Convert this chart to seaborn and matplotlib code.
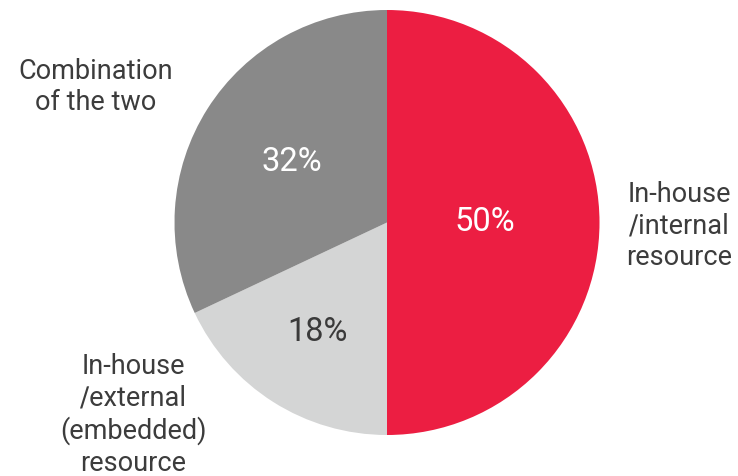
import numpy as np
import matplotlib
matplotlib.use("Agg")
import matplotlib.pyplot as plt
import seaborn as sns

# Source of resource for the function
categories = ["In-house\n∕internal\nresource",
              "In-house\n∕external\n(embedded)\nresource",
              "Combination\nof the two"]
shares = [50, 18, 32]
pct_labels = ["50%", "18%", "32%"]
colors = ["#EC1E42", "#D4D5D5", "#898989"]
pct_colors = ["#FFFFFF", "#3A3A3A", "#FFFFFF"]

sns.set_theme(style="white")
plt.rcParams["font.family"] = ["Roboto", "DejaVu Sans"]

W, H = 738, 476
fig = plt.figure(figsize=(W / 100, H / 100), dpi=100)
cx, cy, r = 387, 222.5, 212.5
ax = fig.add_axes([(cx - r) / W, (H - cy - r) / H, 2 * r / W, 2 * r / H])

wedges, _ = ax.pie(shares, colors=colors, startangle=90, counterclock=False,
                   radius=1.0, wedgeprops=dict(linewidth=0))
ax.set_xlim(-1, 1)
ax.set_ylim(-1, 1)
ax.set_aspect("equal")
ax.axis("off")

# Percentage labels inside each wedge
pct_dist = [0.46, 0.61, 0.53]
for w, lab, col, d in zip(wedges, pct_labels, pct_colors, pct_dist):
    ang = np.deg2rad((w.theta1 + w.theta2) / 2)
    ax.text(d * np.cos(ang), d * np.sin(ang), lab, ha="center", va="center",
            color=col, fontsize=23.5)

# Category labels outside the pie
label_pos = [(679, 226), (133, 415), (96, 87)]
for lab, (px, py) in zip(categories, label_pos):
    fig.text(px / W, 1 - py / H, lab, ha="center", va="center",
             color="#3C3C3C", fontsize=19.5, linespacing=1.22)

fig.savefig("out.png", dpi=100, facecolor="white")
